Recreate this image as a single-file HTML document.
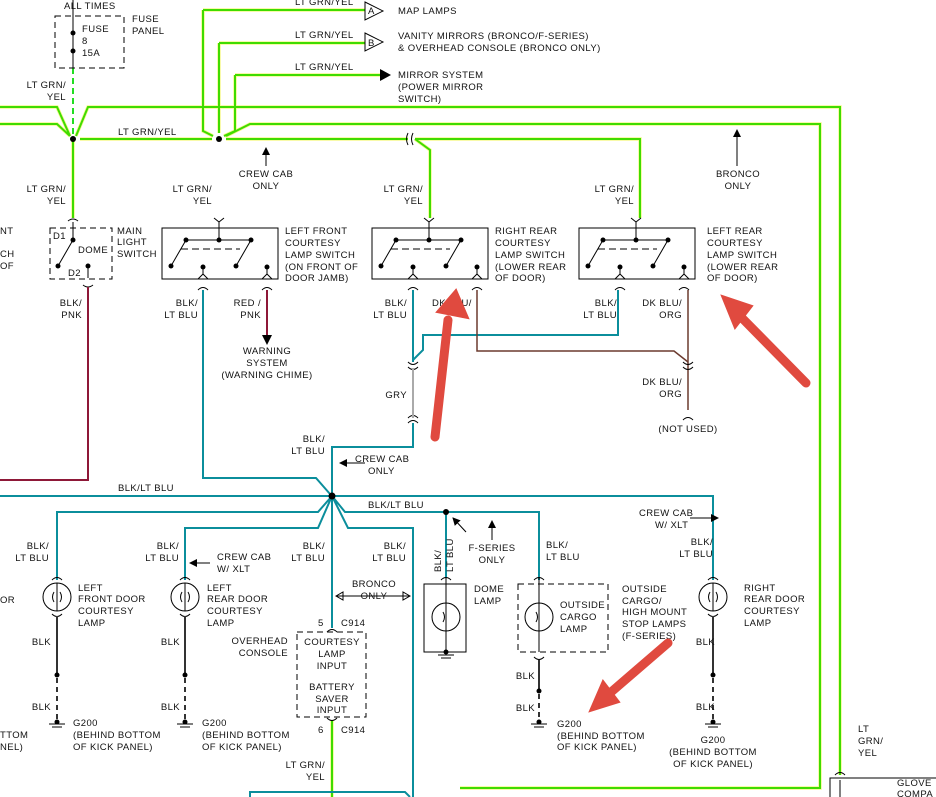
<!DOCTYPE html>
<html><head><meta charset="utf-8"><style>
html,body{margin:0;padding:0;background:#fff;}
svg{display:block;font-family:"Liberation Sans",sans-serif;font-size:9.5px;letter-spacing:0.4px;}
.g{stroke:#3fdc00;stroke-width:2;fill:none}
.gy{stroke:#e8f000;stroke-width:3.5;fill:none;opacity:.45}
.t{stroke:#0b8e9c;stroke-width:2;fill:none}
.k{stroke:#333;stroke-width:2;fill:none}
.r{stroke:#8e1838;stroke-width:2;fill:none}
.b{stroke:#000;stroke-width:1;fill:none}
.d{stroke:#000;stroke-width:1;fill:none;stroke-dasharray:6 4}
text{fill:#111}
.c{text-anchor:middle}
.e{text-anchor:end}
</style></head><body>
<svg width="936" height="797" viewBox="0 0 936 797" xmlns="http://www.w3.org/2000/svg">
<defs>
<marker id="ah" markerWidth="8" markerHeight="8" refX="7" refY="4" orient="auto" markerUnits="userSpaceOnUse"><path d="M0,0L8,4L0,8z" fill="#000"/></marker>
</defs>
<!-- GREEN WIRES -->
<g class="gy">
<path d="M0,107H57L70,136M76,136L88,107H840V775M0,124H57L70,136M226,136L250,124H820V788H460M80,139H212M226,139H408M415,139H640V218M415,139L430,150V218M73,141V218M203,10V131L213,136M219,43V133M235,75V131L224,136M203,10H365M219,43H365M235,75H380M332,720V797"/>
</g>
<g class="g">
<path d="M0,107H57L70,136M76,136L88,107H840V775M0,124H57L70,136M226,136L250,124H820V788H460M80,139H212M226,139H408M415,139H640V218M415,139L430,150V218M73,141V218M203,10V131L213,136M219,43V133M235,75V131L224,136M203,10H365M219,43H365M235,75H380M332,720V797"/>
<path d="M73,68V137" stroke-dasharray="6 4" stroke="#22dd22"/>
</g>
<!-- fuse -->
<path class="b" d="M73,0V68"/>
<rect class="d" x="55" y="16" width="69" height="52"/>
<circle cx="73" cy="33" r="2.5"/><circle cx="73" cy="51" r="2.5"/>
<text x="64" y="9">ALL TIMES</text>
<text x="82" y="32">FUSE</text><text x="82" y="44">8</text><text x="82" y="56">15A</text>
<text x="132" y="22">FUSE</text><text x="132" y="34">PANEL</text>
<text class="e" x="66" y="88">LT GRN/</text><text class="e" x="66" y="100">YEL</text>
<circle cx="73" cy="139" r="3"/><circle cx="219" cy="139" r="3"/>
<text x="118" y="135">LT GRN/YEL</text>
<!-- A B -->
<path class="b" d="M365,2L383,11L365,20z"/><text x="368" y="14">A</text>
<path class="b" d="M365,33L383,42L365,51z"/><text x="368" y="46">B</text>
<path d="M380,69L391,75L380,81z"/>
<text x="295" y="5">LT GRN/YEL</text>
<text x="295" y="38">LT GRN/YEL</text>
<text x="295" y="70">LT GRN/YEL</text>
<text x="398" y="14">MAP LAMPS</text>
<text x="398" y="39">VANITY MIRRORS (BRONCO/F-SERIES)</text>
<text x="398" y="51">&amp; OVERHEAD CONSOLE (BRONCO ONLY)</text>
<text x="398" y="78">MIRROR SYSTEM</text><text x="398" y="90">(POWER MIRROR</text><text x="398" y="102">SWITCH)</text>
<path class="b" d="M408,133q-3,6 0,12M413,133q-3,6 0,12"/>
<path class="b" d="M266,166V148" marker-end="url(#ah)"/>
<text class="c" x="266" y="177">CREW CAB</text><text class="c" x="266" y="189">ONLY</text>
<path class="b" d="M737,166V130" marker-end="url(#ah)"/>
<text class="c" x="738" y="177">BRONCO</text><text class="c" x="738" y="189">ONLY</text>
<text class="e" x="66" y="192">LT GRN/</text><text class="e" x="66" y="204">YEL</text>
<text class="e" x="212" y="192">LT GRN/</text><text class="e" x="212" y="204">YEL</text>
<text class="e" x="423" y="192">LT GRN/</text><text class="e" x="423" y="204">YEL</text>
<text class="e" x="634" y="192">LT GRN/</text><text class="e" x="634" y="204">YEL</text>
<!-- main light switch -->
<rect class="d" x="50" y="228" width="62" height="51"/>
<path class="b" d="M73,222V240L58,266M88,266V278M68,221q5,-4 10,0M83,285q5,4 10,0"/>
<circle cx="73" cy="240" r="2.5"/><circle cx="58" cy="266" r="2.5"/><circle cx="88" cy="266" r="2.5"/>
<text x="53" y="239">D1</text><text x="78" y="253">DOME</text><text x="68" y="276">D2</text>
<text x="117" y="234">MAIN</text><text x="117" y="245">LIGHT</text><text x="117" y="257">SWITCH</text>
<text x="0" y="234">NT</text><text x="0" y="257">CH</text><text x="0" y="269">OF</text>
<!-- switch boxes -->
<g id="sw">
<rect class="b" x="162" y="228" width="116" height="51"/>
<path class="b" d="M186,240H251M186,240L171,266M251,240L236,266M219,222V240" />
<path class="b" d="M181,249H240" stroke-dasharray="7 4"/>
<circle cx="186" cy="240" r="2.5"/><circle cx="219" cy="240" r="2.5"/><circle cx="251" cy="240" r="2.5"/>
<circle cx="171" cy="266" r="2.5"/><circle cx="236" cy="266" r="2.5"/>
<circle cx="203" cy="267" r="2.5"/><circle cx="267" cy="267" r="2.5"/>
<path class="b" d="M203,267V274L198,279M203,274L208,279M267,267V274L262,279M267,274L272,279M214,218l5,4l5,-4M198,290q5,-5 10,0M262,290q5,-5 10,0"/>
</g>
<use href="#sw" x="210"/><use href="#sw" x="417"/>
<text x="285" y="234">LEFT FRONT</text><text x="285" y="246">COURTESY</text><text x="285" y="258">LAMP SWITCH</text><text x="285" y="270">(ON FRONT OF</text><text x="285" y="281">DOOR JAMB)</text>
<text x="495" y="234">RIGHT REAR</text><text x="495" y="246">COURTESY</text><text x="495" y="258">LAMP SWITCH</text><text x="495" y="270">(LOWER REAR</text><text x="495" y="281">OF DOOR)</text>
<text x="707" y="234">LEFT REAR</text><text x="707" y="246">COURTESY</text><text x="707" y="258">LAMP SWITCH</text><text x="707" y="270">(LOWER REAR</text><text x="707" y="281">OF DOOR)</text>
<!-- below switches -->
<path class="r" d="M88,287V480H0"/>
<text class="e" x="82" y="306">BLK/</text><text class="e" x="82" y="318">PNK</text>
<path class="r" d="M267,290V335" stroke="#c0203a"/>
<path d="M262,335L267,345L272,335z"/>
<text class="c" x="267" y="354">WARNING</text><text class="c" x="267" y="366">SYSTEM</text><text class="c" x="267" y="378">(WARNING CHIME)</text>
<text class="e" x="198" y="306">BLK/</text><text class="e" x="198" y="318">LT BLU</text>
<text class="e" x="261" y="306">RED /</text><text class="e" x="261" y="318">PNK</text>
<path class="t" d="M203,290V478H316L330,494"/>
<text class="e" x="407" y="306">BLK/</text><text class="e" x="407" y="318">LT BLU</text>
<text x="432" y="306">DK BLU/</text><text x="460" y="318">G</text>
<text class="e" x="617" y="306">BLK/</text><text class="e" x="617" y="318">LT BLU</text>
<text class="e" x="682" y="306">DK BLU/</text><text class="e" x="682" y="318">ORG</text>
<path class="t" d="M413,290V362M618,290V335H423V350L413,360"/>
<path d="M477,290V351H674L688,362" stroke="#6b3a2e" stroke-width="1.5" fill="none"/>
<path d="M688,290V410" stroke="#6b3a2e" stroke-width="1.5" fill="none"/>
<path class="b" d="M408,362q5,5 10,0M408,367q5,5 10,0M683,362q5,5 10,0M683,367q5,5 10,0M683,420q5,-5 10,0M408,418q5,-5 10,0M408,423q5,-5 10,0"/>
<path d="M413,368V418" stroke="#aaa" stroke-width="2"/>
<text class="e" x="407" y="398">GRY</text>
<text class="e" x="682" y="385">DK BLU/</text><text class="e" x="682" y="397">ORG</text>
<text class="c" x="688" y="432">(NOT USED)</text>
<path class="t" d="M413,423V447H332V496"/>
<text class="e" x="325" y="442">BLK/</text><text class="e" x="325" y="454">LT BLU</text>
<path class="b" d="M365,463H340" marker-end="url(#ah)"/>
<text x="355" y="462">CREW CAB</text><text x="368" y="474">ONLY</text>
<!-- lower teal -->
<path class="t" d="M0,496H332M332,496H713V580M332,496L345,512H446M446,512H539V580M446,512V578M332,496L318,512H57V580M332,496L318,528H185V580M332,496V628M332,496L348,528H413V797M250,797V792H405L410,797"/>
<circle cx="332" cy="496" r="3.5"/><circle cx="446" cy="512" r="3"/>
<text x="118" y="491">BLK/LT BLU</text>
<text x="368" y="508">BLK/LT BLU</text>
<path class="b" d="M466,532L453,518" marker-end="url(#ah)"/>
<path class="b" d="M492,540V521" marker-end="url(#ah)"/>
<text class="c" x="492" y="551">F-SERIES</text><text class="c" x="492" y="563">ONLY</text>
<text x="639" y="516">CREW CAB</text><text x="655" y="528">W/ XLT</text>
<path class="b" d="M690,518H718" marker-end="url(#ah)"/>
<text class="e" x="49" y="549">BLK/</text><text class="e" x="49" y="561">LT BLU</text>
<text class="e" x="179" y="549">BLK/</text><text class="e" x="179" y="561">LT BLU</text>
<path class="b" d="M210,563H190" marker-end="url(#ah)"/>
<text x="217" y="560">CREW CAB</text><text x="217" y="572">W/ XLT</text>
<text class="e" x="325" y="549">BLK/</text><text class="e" x="325" y="561">LT BLU</text>
<text class="e" x="406" y="549">BLK/</text><text class="e" x="406" y="561">LT BLU</text>
<text x="546" y="548">BLK/</text><text x="546" y="560">LT BLU</text>
<text class="e" x="713" y="545">BLK/</text><text class="e" x="713" y="557">LT BLU</text>
<text transform="translate(441,572) rotate(-90)">BLK/</text><text transform="translate(453,572) rotate(-90)">LT BLU</text>
<path class="b" d="M336,596H410M336,596l7,-4v8zM410,596l-7,-4v8z"/>
<text class="c" x="374" y="587">BRONCO</text><text class="c" x="374" y="599">ONLY</text>
<!-- lamps -->
<g id="lp">
<circle class="b" cx="57" cy="597" r="14"/>
<path class="b" d="M52,580q5,-5 10,0M52,614q5,5 10,0M57,583V611M54,592q-3,5 0,10M60,592q3,5 0,10"/>
<path class="k" d="M57,616V675"/>
<circle cx="57" cy="675" r="2.5"/>
<path class="k" d="M57,678V720" stroke-dasharray="5 4"/>
<circle cx="57" cy="722" r="2.5"/>
<path class="b" d="M49,724H65M52,727H62"/>
</g>
<use href="#lp" x="128"/><use href="#lp" x="656"/>
<text x="78" y="591">LEFT</text><text x="78" y="602">FRONT DOOR</text><text x="78" y="614">COURTESY</text><text x="78" y="626">LAMP</text>
<text x="207" y="591">LEFT</text><text x="207" y="602">REAR DOOR</text><text x="207" y="614">COURTESY</text><text x="207" y="626">LAMP</text>
<text x="744" y="591">RIGHT</text><text x="744" y="602">REAR DOOR</text><text x="744" y="614">COURTESY</text><text x="744" y="626">LAMP</text>
<text x="0" y="603">OR</text>
<text class="e" x="51" y="645">BLK</text><text class="e" x="51" y="710">BLK</text>
<text class="e" x="180" y="645">BLK</text><text class="e" x="180" y="710">BLK</text>
<text class="e" x="715" y="645">BLK</text><text class="e" x="715" y="710">BLK</text>
<text x="73" y="726">G200</text><text x="73" y="738">(BEHIND BOTTOM</text><text x="73" y="750">OF KICK PANEL)</text>
<text x="202" y="726">G200</text><text x="202" y="738">(BEHIND BOTTOM</text><text x="202" y="750">OF KICK PANEL)</text>
<text x="0" y="738">TTOM</text><text x="0" y="750">NEL)</text>
<text class="c" x="713" y="743">G200</text><text class="c" x="713" y="755">(BEHIND BOTTOM</text><text class="c" x="713" y="767">OF KICK PANEL)</text>
<!-- dome lamp -->
<rect class="b" x="424" y="584" width="42" height="68"/>
<circle class="b" cx="446" cy="617" r="14"/>
<path class="b" d="M446,578V652M441,580q5,-5 10,0M443,612q3,5 0,10M438,655H454M441,658H451"/>
<circle cx="446" cy="652" r="2.5"/>
<text x="474" y="592">DOME</text><text x="474" y="604">LAMP</text>
<!-- cargo -->
<rect class="d" x="518" y="584" width="90" height="68"/>
<circle class="b" cx="539" cy="617" r="14"/>
<path class="b" d="M539,578V652M534,580q5,-5 10,0M534,657q5,5 10,0M536,612q3,5 0,10"/>
<path class="k" d="M539,660V690"/><circle cx="539" cy="691" r="2.5"/>
<path class="k" d="M539,694V720" stroke-dasharray="5 4"/><circle cx="539" cy="722" r="2.5"/>
<path class="b" d="M531,724H547M534,727H544"/>
<text x="560" y="608">OUTSIDE</text><text x="560" y="620">CARGO</text><text x="560" y="632">LAMP</text>
<text x="622" y="592">OUTSIDE</text><text x="622" y="604">CARGO/</text><text x="622" y="615">HIGH MOUNT</text><text x="622" y="627">STOP LAMPS</text><text x="622" y="639">(F-SERIES)</text>
<text class="e" x="535" y="679">BLK</text><text class="e" x="535" y="711">BLK</text>
<text x="557" y="727">G200</text><text x="557" y="739">(BEHIND BOTTOM</text><text x="557" y="750">OF KICK PANEL)</text>
<!-- overhead console -->
<rect class="d" x="297" y="632" width="69" height="85"/>
<path class="b" d="M327,632q5,-5 10,0M327,718q5,5 10,0"/>
<text x="318" y="626">5</text><text x="341" y="626">C914</text>
<text x="318" y="733">6</text><text x="341" y="733">C914</text>
<text class="c" x="332" y="645">COURTESY</text><text class="c" x="332" y="657">LAMP</text><text class="c" x="332" y="669">INPUT</text>
<text class="c" x="332" y="690">BATTERY</text><text class="c" x="332" y="702">SAVER</text><text class="c" x="332" y="713">INPUT</text>
<text class="e" x="288" y="644">OVERHEAD</text><text class="e" x="288" y="656">CONSOLE</text>
<text class="e" x="325" y="768">LT GRN/</text><text class="e" x="325" y="780">YEL</text>
<!-- glove -->
<rect class="b" x="830" y="778" width="110" height="30"/>
<path class="b" d="M835,775q5,-5 10,0M840,780V797"/>
<text x="858" y="732">LT</text><text x="858" y="744">GRN/</text><text x="858" y="756">YEL</text>
<text x="897" y="786">GLOVE</text><text x="897" y="797">COMPA</text>
<!-- red arrows -->
<g fill="#e04a3f" stroke="#e04a3f" stroke-linecap="round">
<path d="M435,437L448,320" stroke-width="9"/>
<path d="M437,312L456,290L468,318z" stroke-width="2"/>
<path d="M806,383L742,318" stroke-width="9"/>
<path d="M722,296L752,306L735,328z" stroke-width="2"/>
<path d="M668,643L610,693" stroke-width="9"/>
<path d="M590,711L603,681L619,702z" stroke-width="2"/>
</g>
</svg>
</body></html>
